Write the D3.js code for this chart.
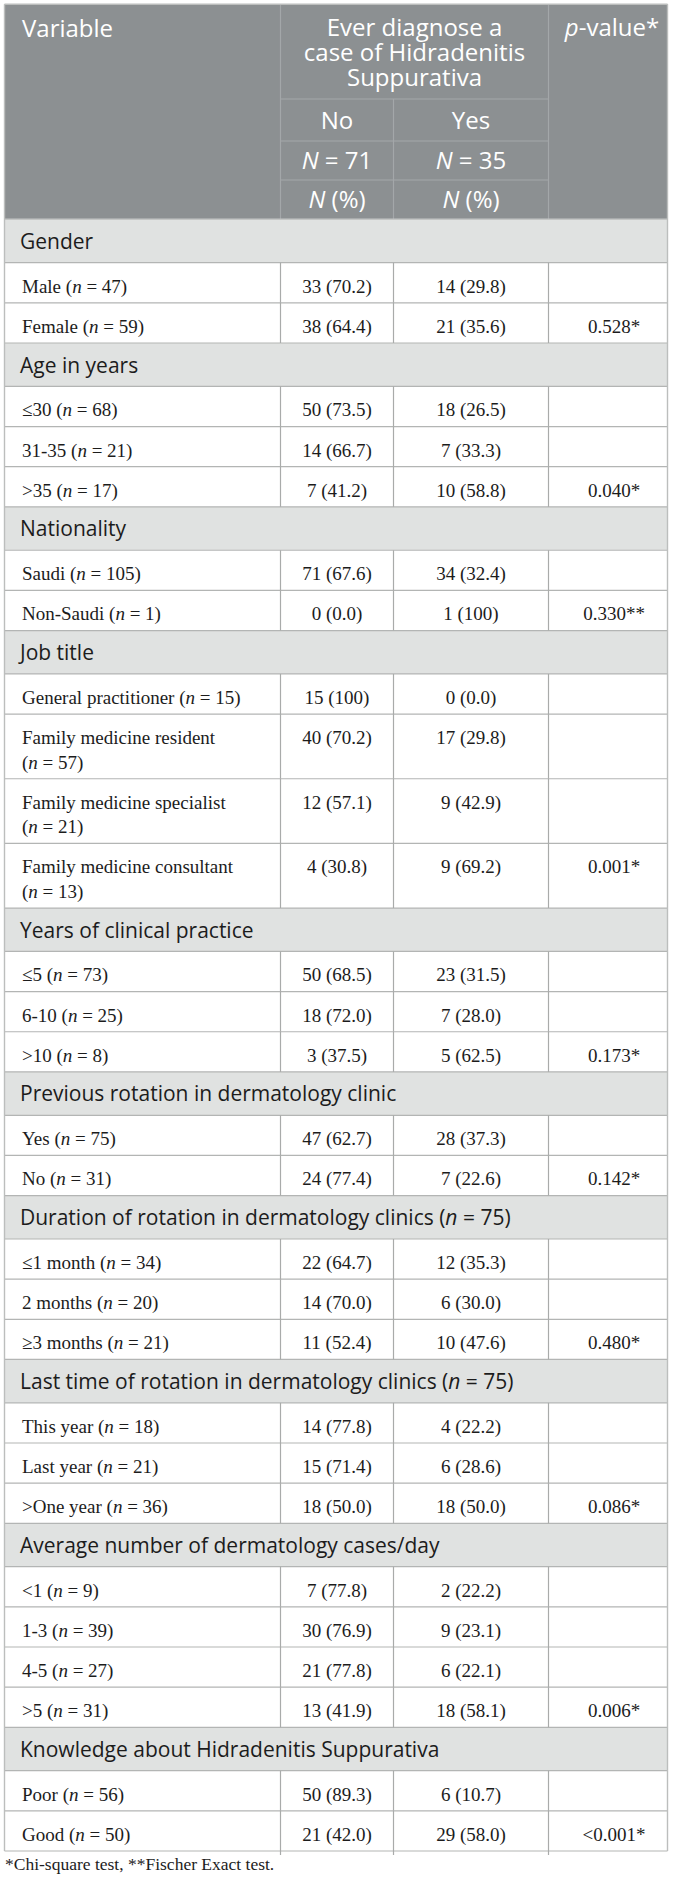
<!DOCTYPE html>
<html><head><meta charset="utf-8">
<script src="https://cdn.jsdelivr.net/npm/d3@7"></script>
<style>body{margin:0;background:#fff;} svg{display:block}</style>
</head><body><svg id="t" width="673" height="1884"></svg>
<script>
// ---------- DATA ----------
const sectionTitles = ["Gender","Age in years","Nationality","Job title","Years of clinical practice","Previous rotation in dermatology clinic","Duration of rotation in dermatology clinics","Last time of rotation in dermatology clinics","Average number of dermatology cases/day","Knowledge about Hidradenitis Suppurativa"];
const sectionN = [null,null,null,null,null,null,75,75,null,null];
const rowNames = [["Male","Female"],["≤30","31-35",">35"],["Saudi","Non-Saudi"],["General practitioner","Family medicine resident","Family medicine specialist","Family medicine consultant"],["≤5","6-10",">10"],["Yes","No"],["≤1 month","2 months","≥3 months"],["This year","Last year",">One year"],["<1","1-3","4-5",">5"],["Poor","Good"]];
const rowN = [[47,59],[68,21,17],[105,1],[15,57,21,13],[73,25,8],[75,31],[34,20,21],[18,21,36],[9,39,27,31],[56,50]];
const noCount = [[33,38],[50,14,7],[71,0],[15,40,12,4],[50,18,3],[47,24],[22,14,11],[14,15,18],[7,30,21,13],[50,21]];
const noPct = [[70.2,64.4],[73.5,66.7,41.2],[67.6,0.0],[100,70.2,57.1,30.8],[68.5,72.0,37.5],[62.7,77.4],[64.7,70.0,52.4],[77.8,71.4,50.0],[77.8,76.9,77.8,41.9],[89.3,42.0]];
const yesCount = [[14,21],[18,7,10],[34,1],[0,17,9,9],[23,7,5],[28,7],[12,6,10],[4,6,18],[2,9,6,18],[6,29]];
const yesPct = [[29.8,35.6],[26.5,33.3,58.8],[32.4,100],[0.0,29.8,42.9,69.2],[31.5,28.0,62.5],[37.3,22.6],[35.3,30.0,47.6],[22.2,28.6,50.0],[22.2,23.1,22.1,58.1],[10.7,58.0]];
const pValues = ["0.528","0.040","0.330","0.001","0.173","0.142","0.480","0.086","0.006","<0.001"];
const pTests = ["*","*","**","*","*","*","*","*","*","*"];
const groupLabels = ["No","Yes"];
const groupTotals = [71,35];
const headerGroup = ["Ever diagnose a","case of Hidradenitis","Suppurativa"];
const footnote = "*Chi-square test, **Fischer Exact test.";

// ---------- LAYOUT ----------
const svg = d3.select("#t");
const SANS = "'Open Sans', sans-serif", SERIF = "'Liberation Serif', 'Times New Roman', serif";
const colKeys = ["label","no","yes","p"];
const edges = [4.5, 280.5, 393.5, 548.5, 667.5];
const xL = d3.scaleOrdinal().domain(colKeys).range(edges.slice(0,4));
const xR = d3.scaleOrdinal().domain(colKeys).range(edges.slice(1));
const xM = k => (xL(k)+xR(k))/2;
const tableL = edges[0], tableR = edges[4];
const tableTop = 4.3;
const headH = [94.7, 42, 39, 39.3];
const headY = d3.cumsum([tableTop, ...headH]);
const bodyTop = headY[4];
const SEC_H = 43.4, ROW_H = 40.15, LINE2 = 24.5;
const fmt = v => v === 100 ? "100" : v.toFixed(1);

// measure for wrapping
const meas = svg.append("text").attr("font-family", SERIF).attr("font-size", 19);
function labelWidth(s){ meas.text(s); return meas.node().getComputedTextLength(); }
const maxLabelW = (xR("label") - xL("label")) - 44;

const rows = [];
sectionTitles.forEach((t,i) => {
  rows.push({type:"section", i});
  rowNames[i].forEach((nm,j) => {
    const full = `${nm} (n = ${rowN[i][j]})`;
    const wrap = labelWidth(full) > maxLabelW;
    rows.push({type:"data", i, j, wrap, last: j === rowNames[i].length-1});
  });
});
meas.remove();
rows.forEach(r => r.h = r.type === "section" ? SEC_H : (r.wrap ? ROW_H + LINE2 : ROW_H));
const ys = d3.cumsum([bodyTop, ...rows.map(r => r.h)]);
rows.forEach((r,k) => { r.y = ys[k]; });
const bottom = ys[rows.length];

// ---------- HEADER ----------
const HEAD_BG = "#8c9092", HEAD_LINE = "#a3a7a9";
svg.append("rect").attr("x", tableL).attr("y", tableTop).attr("width", tableR-tableL).attr("height", bodyTop-tableTop).attr("fill", HEAD_BG);
const hl = svg.append("g").attr("stroke", HEAD_LINE).attr("stroke-width", 1.2);
hl.append("line").attr("x1", xL("no")).attr("x2", xL("no")).attr("y1", tableTop).attr("y2", bodyTop);
hl.append("line").attr("x1", xL("p")).attr("x2", xL("p")).attr("y1", tableTop).attr("y2", bodyTop);
hl.append("line").attr("x1", xL("yes")).attr("x2", xL("yes")).attr("y1", headY[1]).attr("y2", bodyTop);
[1,2,3].forEach(k => hl.append("line").attr("x1", xL("no")).attr("x2", xR("yes")).attr("y1", headY[k]).attr("y2", headY[k]));

const HF = 24;
const hg = svg.append("g").attr("font-family", SANS).attr("font-size", HF).attr("fill", "#fff");
hg.append("text").attr("x", 22).attr("y", tableTop+33).text("Variable");
const groupMid = (xL("no")+xR("yes"))/2;
hg.append("text").attr("x", groupMid).attr("y", tableTop + 32).attr("text-anchor","middle")
  .selectAll("tspan").data(headerGroup).join("tspan")
  .attr("x", groupMid).attr("dy", (d,k) => k === 0 ? 0 : 25).text(d => d);
const pv = hg.append("text").attr("x", xM("p")+4).attr("y", tableTop+32).attr("text-anchor","middle");
pv.append("tspan").attr("font-style","italic").text("p");
pv.append("tspan").text("-value*");
["no","yes"].forEach((k,g) => {
  hg.append("text").attr("x", xM(k)).attr("y", headY[1] + headH[1]/2 + 8.5).attr("text-anchor","middle").text(groupLabels[g]);
  const t = hg.append("text").attr("x", xM(k)).attr("y", headY[2] + headH[2]/2 + 8.5).attr("text-anchor","middle");
  t.append("tspan").attr("font-style","italic").text("N");
  t.append("tspan").text(" = " + groupTotals[g]);
  const t2 = hg.append("text").attr("x", xM(k)).attr("y", headY[3] + headH[3]/2 + 8.5).attr("text-anchor","middle");
  t2.append("tspan").attr("font-style","italic").text("N");
  t2.append("tspan").text(" (%)");
});

// ---------- BODY ----------
const body = svg.append("g");
body.selectAll("rect.row").data(rows).join("rect").attr("class","row")
  .attr("x", tableL).attr("width", tableR-tableL)
  .attr("y", r => r.y).attr("height", r => r.h)
  .attr("fill", r => r.type === "section" ? "#e0e2e1" : "#ffffff");

// horizontal lines
body.selectAll("line.h").data(rows).join("line").attr("class","h")
  .attr("x1", tableL).attr("x2", tableR).attr("y1", r => r.y).attr("y2", r => r.y)
  .attr("stroke", r => r.y === bodyTop ? "#c4c6c5" : "#b3b5b4").attr("stroke-width", r => r.y === bodyTop ? 1.6 : 1.2);
body.append("line").attr("x1", tableL).attr("x2", tableR).attr("y1", bottom).attr("y2", bottom).attr("stroke","#b3b5b4").attr("stroke-width",1.2);

// vertical column lines in data rows
const dataRows = rows.filter(r => r.type === "data");
["no","yes","p"].forEach(k => {
  body.selectAll(null).data(dataRows).join("line")
    .attr("x1", xL(k)).attr("x2", xL(k)).attr("y1", r => r.y).attr("y2", (r) => r.y + r.h + ((r.i === sectionTitles.length-1 && r.last) ? 4 : 0))
    .attr("stroke", "#a9abaa").attr("stroke-width", 1.2);
});
// outer border
const ob = svg.append("g").attr("stroke","#bcbebd").attr("stroke-width",1.4);
ob.append("line").attr("x1", tableL).attr("x2", tableL).attr("y1", tableTop).attr("y2", bottom);
ob.append("line").attr("x1", tableR).attr("x2", tableR).attr("y1", tableTop).attr("y2", bottom);
ob.append("line").attr("x1", tableL).attr("x2", tableR).attr("y1", tableTop).attr("y2", tableTop);

// section titles
const secRows = rows.filter(r => r.type === "section");
body.selectAll("text.sec").data(secRows).join("text").attr("class","sec")
  .attr("x", 20).attr("y", r => r.y + 29.5)
  .attr("font-family", SANS).attr("font-size", 21).attr("fill", "#1c1c1c")
  .each(function(r){
    const t = d3.select(this);
    const n = sectionN[r.i];
    if (n == null) { t.text(sectionTitles[r.i]); return; }
    t.append("tspan").text(sectionTitles[r.i] + " (");
    t.append("tspan").attr("font-style","italic").text("n");
    t.append("tspan").text(" = " + n + ")");
  });

// data labels
const dg = body.append("g").attr("font-family", SERIF).attr("font-size", 19).attr("fill", "#1c1c1c");
dg.selectAll("text.lab").data(dataRows).join("text").attr("class","lab")
  .attr("x", 22).attr("y", r => r.y + 30)
  .each(function(r){
    const t = d3.select(this);
    const nm = rowNames[r.i][r.j], n = rowN[r.i][r.j];
    if (r.wrap) {
      t.append("tspan").text(nm);
      t.append("tspan").attr("x", 22).attr("dy", LINE2).text("(");
    } else {
      t.append("tspan").text(nm + " (");
    }
    t.append("tspan").attr("font-style","italic").text("n");
    t.append("tspan").text(" = " + n + ")");
  });
dg.selectAll("text.no").data(dataRows).join("text").attr("class","no")
  .attr("x", xM("no")).attr("y", r => r.y + 30).attr("text-anchor","middle")
  .text(r => `${noCount[r.i][r.j]} (${fmt(noPct[r.i][r.j])})`);
dg.selectAll("text.yes").data(dataRows).join("text").attr("class","yes")
  .attr("x", xM("yes")).attr("y", r => r.y + 30).attr("text-anchor","middle")
  .text(r => `${yesCount[r.i][r.j]} (${fmt(yesPct[r.i][r.j])})`);
dg.selectAll("text.p").data(dataRows.filter(r => r.last)).join("text").attr("class","p")
  .attr("x", xM("p")+6).attr("y", r => r.y + 30).attr("text-anchor","middle")
  .text(r => pValues[r.i] + pTests[r.i]);

// footnote
svg.append("text").attr("x", 5).attr("y", bottom + 19).attr("font-family", SERIF).attr("font-size", 17.5).attr("fill","#1c1c1c").text(footnote);
</script></body></html>
